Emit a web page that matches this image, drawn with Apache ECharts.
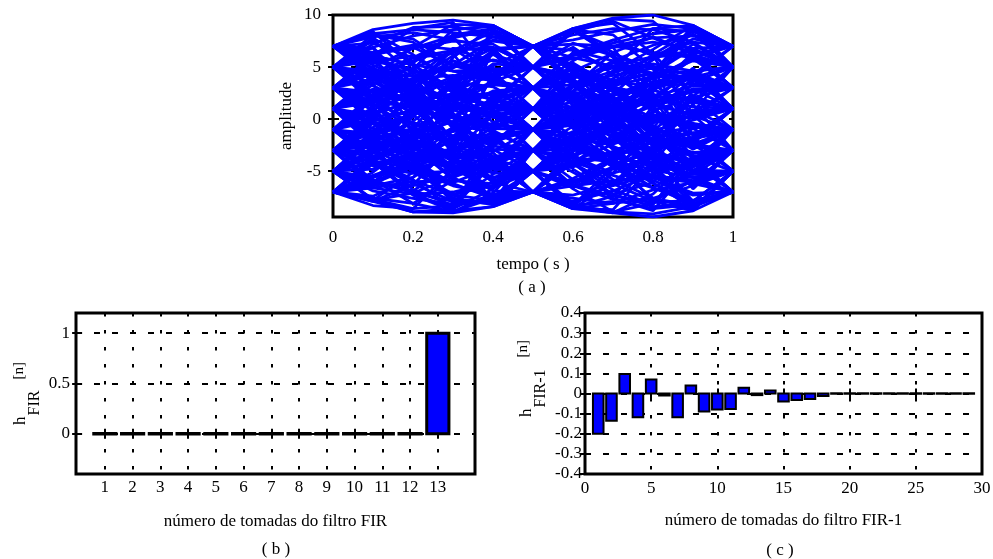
<!DOCTYPE html>
<html>
<head>
<meta charset="utf-8">
<script src="https://cdn.jsdelivr.net/npm/echarts@6/dist/echarts.min.js"></script>
<style>
  html, body { margin: 0; padding: 0; background: #fff; }
  #grafico { width: 993px; height: 559px; }
</style>
</head>
<body>
<div id="grafico"></div>
<script>
// (a) Diagrama de olho: instantes de amostragem de cada traço (s)
const tempo = [0, 0.1, 0.2, 0.3, 0.4, 0.5, 0.6, 0.7, 0.8, 0.9, 1.0];

// Traços agrupados pelo nível inicial do símbolo
const tracosNivel7 = [
  [7, 8.6, 9.2, 9.5, 9.0, 7, 8.7, 9.7, 10.0, 9.0, 7],
  [7, 7.9, 8.3, 7.6, 6.9, 5, 3.6, 2.9, 2.2, 1.9, 1],
  [7, 6.1, 5.2, 4.6, 4.8, 3, 0.6, -1.8, -3.9, -5.6, -5],
  [7, 5.2, 3.4, 1.8, 0.2, 1, 2.7, 4.4, 5.9, 6.6, 5],
  [7, 4.8, 2.7, 0.9, -0.6, -1, -3.4, -5.8, -7.6, -8.3, -7],
  [7, 5.6, 2.9, -0.4, -2.6, -3, -1.2, 0.8, 2.1, 4.5, 3],
  [7, 6.3, 3.5, -0.9, -3.8, -5, -4.6, -3.3, -2.7, -2.4, -1],
  [7, 4.9, 1.6, -2.8, -6.1, -7, -7.9, -6.9, -5.3, -4.1, -3],
  [7, 8.2, 8.6, 8.3, 7.9, 7, 8.1, 8.7, 8.6, 7.4, 5],
  [7, 6.4, 6.8, 7.5, 7.2, 5, 4.2, 4.9, 5.3, 4.6, 3],
  [7, 4.2, 5.6, 8.1, 8.7, 5, 1.9, 3.4, 6.2, 8.5, 7],
  [7, 3.9, 1.2, 3.1, 6.4, 3, -0.4, -2.2, 0.6, 3.9, 1],
  [7, 8.3, 6.2, 3.8, 4.3, 1, -2.4, -0.9, 2.8, 6.1, 3],
  [7, 4.5, 0.9, -1.7, 2.2, -1, -4.3, -3.1, -1.4, -3.6, -5],
  [7, 8.4, 5.1, 0.3, -6.2, -3, 0.6, 2.9, -1.2, -4.6, -1],
  [7, 6.8, 2.4, -3.1, -1.6, -5, -8.1, -6.2, -2.7, 2.1, -1],
  [7, 4.4, -0.7, -5.3, -3.2, -7, -4.1, -7.6, -8.8, -4.3, -7],
  [7, 8.1, 7.7, 5.2, 3.9, 7, 8.6, 6.4, 4.1, 3.9, 7],
  [7, 5.9, 4.1, 2.6, 5.3, 5, 7.3, 6.1, 3.4, 0.6, 3],
  [7, 7.3, 5.9, 6.3, 1.4, 3, 4.8, 2.1, -0.6, -2.9, -1],
  [7, 5.4, 6.1, 3.6, 3.1, 1, -0.8, 0.9, -0.4, 1.8, 1]
];
const tracosNivel5 = [
  [5, 7.2, 8.8, 8.9, 8.2, 7, 5.9, 5.1, 4.3, 4.0, 3],
  [5, 6.4, 7.1, 6.7, 5.6, 5, 2.4, -0.3, -2.2, -3.6, -3],
  [5, 3.9, 2.6, 2.3, 3.4, 3, 5.6, 7.6, 8.7, 8.4, 7],
  [5, 4.3, 3.1, 2.0, 1.4, 1, -0.3, -1.6, -2.1, -1.8, -1],
  [5, 3.2, 1.3, -0.6, -2.2, -1, 0.9, 2.4, 2.8, 1.6, 1],
  [5, 4.1, 1.9, -0.6, -2.2, -3, -5.1, -7.2, -8.4, -8.1, -7],
  [5, 3.3, 0.4, -2.7, -4.4, -5, -2.8, 0.1, 2.9, 4.6, 5],
  [5, 2.6, -1.2, -4.7, -6.9, -7, -8.6, -8.1, -6.8, -6.1, -5],
  [5, 6.9, 8.0, 8.6, 8.9, 7, 7.6, 8.4, 9.1, 8.7, 7],
  [5, 5.6, 4.7, 3.1, 1.8, 1, 0.2, -0.9, -2.1, -3.2, -3],
  [5, 8.1, 7.4, 4.6, 3.8, 7, 8.5, 6.1, 2.8, 1.6, 5],
  [5, 1.8, 3.3, 6.6, 8.4, 5, 1.7, 0.2, 1.9, 4.7, 1],
  [5, 2.2, 0.7, 1.9, 6.3, 3, -0.6, 2.4, 5.8, 8.2, 5],
  [5, 7.8, 5.4, 1.6, -2.4, 1, 4.2, 3.3, -0.9, -4.3, -1],
  [5, 1.6, -2.3, -3.4, 2.3, -1, -4.2, -6.4, -5.3, -1.9, -5],
  [5, 2.0, -2.6, -5.8, -6.6, -3, 0.6, -1.3, -4.4, -8.2, -7],
  [5, 6.9, 2.8, -2.1, -1.4, -5, -8.3, -7.9, -4.2, 0.4, -3],
  [5, 7.6, 4.3, -0.8, -3.6, -7, -3.9, 0.7, 3.1, 5.8, 3],
  [5, 6.1, 5.2, 2.9, -0.3, 1, 3.1, 6.4, 7.9, 6.3, 7],
  [5, 3.4, 4.5, 4.9, 6.8, 7, 5.2, 2.6, 1.2, 2.7, 3],
  [5, 4.6, 2.1, 0.6, -4.1, -1, -1.9, -3.8, -6.2, -7.9, -5]
];
const tracosNivel3 = [
  [3, 5.0, 6.8, 8.0, 8.3, 7, 3.9, 0.2, -3.6, -6.2, -7],
  [3, 4.4, 5.9, 6.6, 6.9, 5, 5.8, 6.9, 7.4, 6.8, 5],
  [3, 1.7, 1.1, 1.8, 2.4, 3, 1.9, 0.6, -0.2, 0.3, 1],
  [3, 2.6, 2.9, 2.2, 2.5, 1, -1.7, -4.4, -6.6, -7.8, -7],
  [3, 2.2, 1.0, 0.1, -0.9, -1, 0.3, 1.7, 3.6, 4.3, 3],
  [3, 1.4, -0.9, -2.6, -3.7, -3, 0.1, 3.2, 5.7, 7.7, 7],
  [3, 0.8, -1.9, -4.1, -5.9, -5, -3.4, -2.1, -1.9, -2.7, -3],
  [3, 0.9, -2.7, -5.6, -7.4, -7, -6.1, -4.6, -3.0, -1.9, -1],
  [3, 3.8, 4.9, 6.4, 7.5, 7, 6.6, 5.6, 4.4, 3.9, 3],
  [3, 4.4, 4.1, 2.7, 1.2, 1, 2.3, 3.2, 4.1, 5.7, 5],
  [3, 6.1, 8.7, 9.3, 4.1, 7, 3.8, -1.1, -4.8, -4.6, -1],
  [3, 0.1, -1.4, 1.9, 8.3, 5, 8.4, 9.4, 7.8, 6.2, 3],
  [3, 5.9, 4.6, 0.4, -0.7, 3, 6.4, 4.9, 1.1, -3.9, -1],
  [3, 6.2, 6.9, 5.1, 4.6, 1, -2.2, -4.6, -2.7, 1.4, -3],
  [3, -0.2, -3.6, -4.8, -4.3, -1, 2.6, 2.1, -2.4, -6.4, -3],
  [3, 5.8, 2.1, -3.3, 0.4, -3, -6.4, -3.9, 1.3, 4.3, 7],
  [3, -0.3, -4.7, -7.6, -8.2, -5, -1.3, 1.9, 2.4, 0.7, 5],
  [3, 1.2, -3.6, -8.1, -3.9, -7, -8.4, -5.2, -0.9, 4.1, 1],
  [3, 4.6, 3.1, 1.4, 0.6, -1, -1.4, -0.4, 1.3, 2.2, 1],
  [3, 2.1, 3.6, 5.6, 4.6, 5, 6.9, 4.3, 1.6, 0.3, -1],
  [3, 4.9, 3.3, -0.6, -1.2, -3, -3.6, -5.2, -4.1, -5.3, -3]
];
const tracosNivel1 = [
  [1, 3.3, 5.9, 7.8, 8.6, 7, 5.1, 2.9, 0.8, -0.5, -1],
  [1, 2.2, 3.8, 5.1, 6.2, 5, 2.2, -1.1, -3.6, -4.9, -5],
  [1, 2.7, 3.9, 4.2, 3.7, 3, 3.3, 4.2, 4.9, 4.2, 3],
  [1, -0.4, -1.2, -0.3, 0.8, 1, 3.3, 5.6, 7.1, 8.1, 7],
  [1, 1.8, 2.2, 1.3, 0.2, -1, -2.6, -4.1, -4.8, -4.4, -3],
  [1, -0.9, -2.4, -3.6, -4.3, -3, -1.6, -0.1, 0.4, 0.2, 1],
  [1, -0.2, -2.1, -3.9, -5.6, -5, -2.1, 0.9, 3.1, 4.0, 5],
  [1, -1.3, -3.9, -6.2, -7.6, -7, -8.2, -8.9, -9.1, -8.4, -7],
  [1, 0.2, 0.8, 2.3, 3.3, 3, -0.2, -2.6, -4.2, -5.6, -5],
  [1, 1.6, 2.6, 3.7, 4.8, 5, 6.1, 7.0, 7.8, 8.0, 7],
  [1, 4.1, 6.9, 9.1, 9.0, 7, 3.4, 4.6, 8.7, 9.0, 5],
  [1, -2.1, -0.9, 3.4, 1.8, 5, 8.7, 9.2, 6.3, 2.2, 5],
  [1, 4.3, 4.8, 2.6, 6.4, 3, -0.6, -3.4, -4.6, -1.7, 1],
  [1, -2.4, -4.7, -3.1, 4.4, 1, -2.6, -1.1, 2.9, 4.1, 1],
  [1, 3.9, 3.1, -0.6, -4.6, -1, 2.7, 5.4, 4.2, -2.3, 1],
  [1, -1.8, -5.1, -7.2, -6.4, -3, 1.1, 4.6, 6.7, 9.0, 7],
  [1, 3.6, 1.4, -3.3, -8.1, -5, -1.4, -3.8, -7.9, -8.8, -5],
  [1, -2.6, -6.8, -8.3, -4.1, -7, -8.6, -6.1, -2.9, -0.4, -3],
  [1, 2.9, 1.8, 0.3, 1.9, 3, 5.1, 3.7, 4.4, 7.2, 5],
  [1, -1.6, -0.4, -2.2, -3.1, -1, 0.6, 1.4, -1.6, -4.3, -3],
  [1, 0.4, 2.9, 5.6, 4.1, 5, 3.6, 0.9, -2.2, 0.6, 1]
];
const tracosNivelM1 = [
  [-1, 1.1, 3.6, 6.1, 7.9, 7, 4.9, 3.1, 1.9, 1.2, 1],
  [-1, 0.9, 2.4, 4.1, 5.7, 5, 6.2, 7.3, 8.2, 8.6, 7],
  [-1, -1.8, -0.9, 1.3, 2.6, 3, 1.0, -1.4, -3.3, -4.0, -3],
  [-1, 0.6, 1.6, 2.4, 2.0, 1, 1.2, 2.3, 3.4, 3.8, 3],
  [-1, -2.7, -3.3, -2.9, -1.8, -1, -2.9, -4.3, -5.4, -5.9, -5],
  [-1, -1.6, -2.9, -3.4, -3.9, -3, -0.7, 1.8, 4.0, 5.6, 5],
  [-1, -2.0, -3.4, -4.8, -5.6, -5, -6.3, -7.4, -8.0, -7.8, -7],
  [-1, -2.9, -4.9, -6.4, -7.2, -7, -5.7, -3.7, -2.2, -1.4, -1],
  [-1, -0.2, 0.9, 1.1, 0.4, 1, 0.2, -1.2, -2.2, -1.9, -1],
  [-1, 0.1, -0.3, -1.6, -2.9, -3, -2.0, -0.4, 0.3, 0.1, 1],
  [-1, 2.1, 5.4, 7.9, 3.6, 7, 8.7, 5.9, 2.2, -3.9, -1],
  [-1, -3.9, -2.1, 2.6, 8.6, 5, 1.3, -2.8, -5.6, -6.1, -3],
  [-1, 1.8, 3.9, 6.8, 6.6, 3, 6.3, 7.6, 6.1, 0.2, 3],
  [-1, -4.2, -3.8, -1.6, -2.5, 1, 4.4, 1.6, -3.4, -7.9, -5],
  [-1, 2.4, 1.6, -2.6, 2.4, -1, -4.3, -6.8, -8.2, -3.6, -7],
  [-1, -3.8, -7.2, -8.6, -6.7, -3, 0.8, 1.4, -1.3, -5.3, -1],
  [-1, 1.9, -0.6, -3.9, -1.6, -5, -8.6, -8.7, -4.4, 2.9, 1],
  [-1, -4.1, -7.3, -8.8, -8.4, -7, -3.6, -0.3, 2.9, 6.1, 3],
  [-1, -3.1, -1.4, 0.3, -1.1, 1, 0.7, -1.8, -4.9, -5.6, -7],
  [-1, 0.7, -1.9, -3.3, -5.1, -3, -5.8, -6.4, -3.1, -0.9, -3],
  [-1, -1.4, 0.3, 3.6, 4.9, 3, 1.6, 4.6, 5.1, 3.6, 5]
];
const tracosNivelM3 = [
  [-3, -1.2, 2.1, 5.2, 7.6, 7, 7.2, 7.0, 6.4, 5.9, 5],
  [-3, -0.8, 1.9, 3.9, 4.6, 5, 3.4, 1.6, 0.2, -0.4, -1],
  [-3, -1.7, 0.4, 1.9, 3.6, 3, 0.2, -2.9, -5.6, -7.1, -7],
  [-3, -3.6, -2.8, -1.1, 0.3, 1, -0.8, -2.7, -3.9, -3.8, -3],
  [-3, -2.4, -1.6, -1.2, -0.4, -1, 1.3, 3.9, 6.1, 7.4, 7],
  [-3, -4.5, -5.2, -5.0, -4.3, -3, -2.2, -1.1, 0.2, 0.8, 1],
  [-3, -2.1, -2.7, -3.8, -5.2, -5, -3.1, -0.6, 1.6, 2.9, 3],
  [-3, -4.2, -5.9, -7.3, -7.8, -7, -6.4, -5.9, -5.7, -5.6, -5],
  [-3, -1.1, 0.6, 1.3, 0.9, -1, -0.6, 0.8, 2.2, 3.2, 3],
  [-3, -3.1, -3.9, -4.5, -4.8, -5, -4.4, -3.2, -1.8, -1.3, -1],
  [-3, 0.1, 4.8, 8.6, 9.0, 7, 3.2, 0.6, 1.8, 4.9, 1],
  [-3, -6.1, -4.2, 0.9, 1.6, 5, 8.6, 8.1, 4.9, 1.4, 5],
  [-3, -0.2, 0.8, 3.4, 6.4, 3, -0.8, -4.4, -7.6, -8.6, -5],
  [-3, -6.4, -5.6, -2.6, 4.3, 1, -2.3, -0.6, 4.4, 9.0, 7],
  [-3, 0.4, 1.8, 0.2, -4.6, -1, 3.1, 1.3, -2.1, -6.7, -3],
  [-3, -5.8, -8.1, -8.9, -7.1, -3, 0.4, 3.1, 2.2, -2.1, 1],
  [-3, 0.3, -1.7, -5.3, -1.4, -5, -8.4, -9.0, -7.2, -3.6, -7],
  [-3, -0.4, -3.9, -7.6, -4.1, -7, -4.2, -1.6, -4.8, -8.6, -5],
  [-3, -1.9, -3.4, -2.1, 1.6, -1, -3.7, -4.1, -1.1, 1.9, 1],
  [-3, -4.9, -3.1, -0.8, 0.6, 3, 4.4, 2.2, 3.9, 5.9, 7],
  [-3, -2.6, -4.4, -6.1, -4.6, -5, -6.6, -4.6, -2.9, -4.6, -3]
];
const tracosNivelM5 = [
  [-5, -3.1, 0.2, 3.8, 6.6, 7, 4.6, 1.8, -0.7, -2.4, -3],
  [-5, -2.9, -0.2, 2.6, 4.3, 5, 4.1, 3.6, 3.2, 3.4, 3],
  [-5, -4.1, -1.9, 0.8, 2.7, 3, 3.9, 5.1, 6.0, 6.2, 5],
  [-5, -3.3, -1.6, -0.2, 1.1, 1, 1.6, 2.0, 1.4, 0.4, 1],
  [-5, -5.6, -4.6, -2.9, -1.6, -1, -0.2, 0.4, -0.1, -0.8, -1],
  [-5, -6.2, -6.4, -5.4, -3.9, -3, -2.9, -3.6, -4.4, -5.3, -5],
  [-5, -6.6, -7.2, -7.0, -6.1, -5, -2.4, 1.2, 4.4, 6.8, 7],
  [-5, -5.9, -7.1, -7.9, -8.1, -7, -5.9, -4.8, -3.7, -3.3, -3],
  [-5, -6.9, -7.6, -8.2, -7.9, -7, -7.6, -8.1, -7.6, -6.4, -5],
  [-5, -4.2, -3.6, -3.3, -3.6, -3, -4.1, -5.4, -6.6, -8.1, -7],
  [-5, -1.6, 2.9, 6.8, 4.2, 7, 8.5, 6.9, 1.4, -3.9, -7],
  [-5, -7.8, -5.1, 1.3, 8.7, 5, 2.1, 0.3, 2.6, 6.4, 3],
  [-5, -1.8, -2.4, -0.9, 6.6, 3, -0.9, -3.4, -6.1, -8.6, -5],
  [-5, -7.7, -8.6, -4.8, -2.7, 1, 4.6, 6.3, 4.8, -1.6, 1],
  [-5, -1.5, 0.6, 1.9, 2.4, -1, -4.8, -7.2, -6.1, -1.7, -5],
  [-5, -2.2, -4.6, -7.8, -7.9, -3, 0.9, 0.3, -3.2, -6.4, -3],
  [-5, -7.7, -8.9, -8.6, -1.8, -5, -8.5, -7.4, -3.3, 3.8, 1],
  [-5, -1.9, -1.1, -3.6, -8.3, -7, -3.1, 0.4, 4.2, 8.6, 7],
  [-5, -3.6, -4.6, -4.1, -1.1, -3, -1.6, 0.9, -0.9, -2.6, -1],
  [-5, -6.1, -4.3, -1.9, 0.3, -1, -3.6, -1.9, 0.8, 2.1, 3],
  [-5, -4.8, -2.6, -4.4, -6.6, -5, -3.6, -6.2, -7.9, -5.9, -7]
];
const tracosNivelM7 = [
  [-7, -6.1, -2.9, 1.4, 5.1, 7, 4.6, 0.4, -3.1, -5.1, -5],
  [-7, -5.1, -2.2, 1.1, 3.6, 5, 1.8, -2.6, -5.9, -7.3, -7],
  [-7, -6.4, -3.8, -0.9, 1.8, 3, 2.1, 0.9, -0.1, -0.6, -1],
  [-7, -7.4, -5.6, -3.1, -0.8, 1, 2.3, 3.6, 4.4, 4.6, 5],
  [-7, -5.4, -4.1, -3.0, -2.1, -1, 0.1, 1.2, 2.0, 2.6, 3],
  [-7, -7.8, -7.1, -5.6, -4.2, -3, -2.3, -2.1, -1.4, -0.8, -1],
  [-7, -7.9, -8.9, -8.9, -7.6, -5, -4.1, -2.4, -1.1, -0.1, 1],
  [-7, -7.8, -8.9, -9.0, -8.4, -7, -8.6, -9.0, -9.4, -8.8, -7],
  [-7, -8.3, -8.6, -8.3, -7.6, -7, -7.3, -6.2, -4.9, -3.8, -3],
  [-7, -6.6, -6.0, -5.9, -6.2, -5, -6.4, -7.7, -8.6, -8.2, -7],
  [-7, -3.8, 1.3, 5.9, 9.0, 7, 3.3, 0.4, -2.6, -1.8, 1],
  [-7, -4.1, -4.6, -1.1, 1.4, 5, 8.7, 9.6, 9.4, 6.3, 3],
  [-7, -7.9, -6.3, -2.4, 6.8, 3, -0.6, 0.3, 3.6, 8.7, 5],
  [-7, -3.6, -2.1, -3.8, -2.6, 1, 5.4, 3.1, -1.6, -4.9, -3],
  [-7, -4.3, -6.2, -7.9, -5.3, -1, 2.6, -0.1, -5.2, -8.6, -5],
  [-7, -7.6, -8.1, -5.9, 0.8, -3, -6.7, -8.9, -8.1, -3.9, -7],
  [-7, -4.0, -1.4, -2.2, -8.1, -5, -1.6, -0.2, -3.1, -8.2, -7],
  [-7, -3.9, -5.8, -8.6, -4.2, -7, -8.3, -4.6, -1.9, -2.4, -5],
  [-7, -5.9, -6.9, -4.3, -2.9, -5, -6.1, -3.9, -1.4, 0.9, -1],
  [-7, -6.2, -4.6, -6.3, -7.4, -5, -2.1, -4.1, -6.6, -4.2, -3],
  [-7, -5.6, -3.2, -4.4, -5.8, -3, 0.4, 1.9, 0.1, -2.3, 1]
];
const ticksAmplitude = [-5, 0, 5, 10];

// (b) Resposta ao impulso do filtro FIR
const tomadasFIR = [1, 2, 3, 4, 5, 6, 7, 8, 9, 10, 11, 12, 13];
const hFIR = [0, 0, 0, 0, 0, 0, 0, 0, 0, 0, 0, 0, 1];
const ticksHFIR = [0, 0.5, 1];

// (c) Resposta ao impulso do filtro inverso FIR-1
const tomadasFIRInv = [1, 2, 3, 4, 5, 6, 7, 8, 9, 10, 11, 12, 13, 14, 15,
  16, 17, 18, 19, 20, 21, 22, 23, 24, 25, 26, 27, 28, 29];
const hFIRInv = [-0.2, -0.135, 0.097, -0.118, 0.07, -0.01, -0.118, 0.04,
  -0.09, -0.08, -0.077, 0.028, -0.008, 0.015, -0.04, -0.032, -0.027, -0.012,
  0, 0, 0, 0, 0, 0, 0, 0, 0, 0, 0];

const SERIF = '"Liberation Serif", "Times New Roman", serif';
const AZUL = '#0000ff';

const rotulo = { fontFamily: SERIF, fontSize: 17, color: '#000' };
const tickDentro = { show: true, inside: true, length: 5, lineStyle: { color: '#000', width: 2 } };
const gradeV = { show: true, lineStyle: { color: '#000', width: 2, type: [3.5, 13.5] } };
const gradeH = { show: true, lineStyle: { color: '#000', width: 2, type: [6, 12] } };

function eixoX(grid, extra) {
  return Object.assign({
    gridIndex: grid, type: 'value', position: 'bottom',
    axisLine: { show: false }, axisTick: tickDentro,
    axisLabel: Object.assign({}, rotulo), splitLine: gradeV,
    nameMoveOverlap: false
  }, extra);
}
function eixoY(grid, extra) {
  return Object.assign({
    gridIndex: grid, type: 'value', position: 'left',
    axisLine: { show: false }, axisTick: tickDentro,
    axisLabel: Object.assign({}, rotulo), splitLine: gradeH,
    nameMoveOverlap: false
  }, extra);
}
// eixos espelhados (só marcas) no topo e à direita de cada quadro
function espelhoX(grid, extra) {
  return Object.assign({
    gridIndex: grid, type: 'value', position: 'top',
    axisLine: { show: false }, axisTick: tickDentro,
    axisLabel: { show: false }, splitLine: { show: false }
  }, extra);
}
function espelhoY(grid, extra) {
  return Object.assign({
    gridIndex: grid, type: 'value', position: 'right',
    axisLine: { show: false }, axisTick: tickDentro,
    axisLabel: { show: false }, splitLine: { show: false }
  }, extra);
}

const quadro = { show: true, borderColor: '#000', borderWidth: 3, backgroundColor: 'transparent', outerBoundsMode: 'none', containLabel: false };

const nomeY = (texto, rich, gap) => ({
  name: texto, nameLocation: 'middle', nameRotate: 90, nameGap: gap,
  nameTextStyle: Object.assign({ align: 'center', verticalAlign: 'middle', rich: rich }, rotulo)
});

const todosTracos = [].concat(tracosNivel7, tracosNivel5, tracosNivel3, tracosNivel1,
  tracosNivelM1, tracosNivelM3, tracosNivelM5, tracosNivelM7);

const seriesOlho = todosTracos.map(tr => ({
  type: 'line', xAxisIndex: 0, yAxisIndex: 0,
  data: tempo.map((t, i) => [t, tr[i]]),
  symbol: 'none', silent: true,
  lineStyle: { color: AZUL, width: 2.8 }
}));

// Barra desenhada como retângulo com contorno; barras nulas viram um traço preto
function desenhaBarra(largura, espessura) {
  return function (params, api) {
    const n = api.value(0), h = api.value(1);
    const p0 = api.coord([n - largura / 2, h]);
    const p1 = api.coord([n + largura / 2, 0]);
    const alto = Math.abs(p1[1] - p0[1]);
    if (alto < 0.5) {
      return {
        type: 'line',
        shape: { x1: p0[0] - espessura / 2, y1: p1[1], x2: p1[0] + espessura / 2, y2: p1[1] },
        style: { stroke: '#000', lineWidth: espessura + 0.5 }
      };
    }
    return {
      type: 'rect',
      shape: { x: p0[0], y: Math.min(p0[1], p1[1]), width: p1[0] - p0[0], height: alto },
      style: { fill: AZUL, stroke: '#000', lineWidth: espessura }
    };
  };
}

const option = {
  animation: false,
  backgroundColor: '#fff',
  grid: [
    Object.assign({ left: 333, top: 15, width: 400, height: 202, z: 3 }, quadro),
    Object.assign({ left: 76, top: 313, width: 399, height: 161 }, quadro),
    Object.assign({ left: 585, top: 313, width: 397, height: 161 }, quadro)
  ],
  xAxis: [
    eixoX(0, { min: 0, max: 1, interval: 0.2, axisLabel: Object.assign({ margin: 12 }, rotulo),
      name: 'tempo ( s )', nameLocation: 'middle', nameGap: 39, nameTextStyle: rotulo }),
    eixoX(1, { min: -0.04, max: 14.34,
      axisLabel: Object.assign({ margin: 5, customValues: tomadasFIR }, rotulo),
      axisTick: Object.assign({ customValues: tomadasFIR }, tickDentro),
      name: 'número de tomadas do filtro FIR', nameLocation: 'middle', nameGap: 39, nameTextStyle: rotulo }),
    eixoX(2, { min: 0, max: 30, interval: 5, axisLabel: Object.assign({ margin: 6 }, rotulo),
      name: 'número de tomadas do filtro FIR-1', nameLocation: 'middle', nameGap: 38, nameTextStyle: rotulo }),
    espelhoX(0, { min: 0, max: 1, interval: 0.2 }),
    espelhoX(1, { min: -0.04, max: 14.34, axisTick: Object.assign({ customValues: tomadasFIR }, tickDentro) }),
    espelhoX(2, { min: 0, max: 30, interval: 5 })
  ],
  yAxis: [
    eixoY(0, Object.assign({ min: -9.4, max: 10,
      axisLabel: Object.assign({ margin: 12, customValues: ticksAmplitude }, rotulo),
      axisTick: Object.assign({ customValues: ticksAmplitude }, tickDentro) },
      nomeY('amplitude', {}, 46))),
    eixoY(1, Object.assign({ min: -0.4, max: 1.2,
      axisLabel: Object.assign({ margin: 6, customValues: ticksHFIR }, rotulo),
      axisTick: Object.assign({ customValues: ticksHFIR }, tickDentro) },
      nomeY('{h|h}{s|FIR}{n|[n]}', {
        h: { fontFamily: SERIF, fontSize: 17, lineHeight: 17, verticalAlign: 'top', padding: [2, 1, 0, 0] },
        s: { fontFamily: SERIF, fontSize: 16, lineHeight: 16, verticalAlign: 'top', padding: [16, 0, 0, 0] },
        n: { fontFamily: SERIF, fontSize: 15, lineHeight: 15, verticalAlign: 'top', padding: [1, 0, 0, 11] }
      }, 57))),
    eixoY(2, Object.assign({ min: -0.4, max: 0.4, interval: 0.1,
      axisLabel: Object.assign({ margin: 3 }, rotulo) },
      nomeY('{h|h}{s|FIR-1}{n|[n]}', {
        h: { fontFamily: SERIF, fontSize: 17, lineHeight: 17, verticalAlign: 'top', padding: [3, 1, 0, 30] },
        s: { fontFamily: SERIF, fontSize: 16, lineHeight: 16, verticalAlign: 'top', padding: [17, 0, 0, 0] },
        n: { fontFamily: SERIF, fontSize: 15, lineHeight: 15, verticalAlign: 'top', padding: [0, 0, 0, 12] }
      }, 61))),
    espelhoY(0, { min: -9.4, max: 10, axisTick: Object.assign({ customValues: ticksAmplitude }, tickDentro) }),
    espelhoY(1, { min: -0.4, max: 1.2, axisTick: Object.assign({ customValues: ticksHFIR }, tickDentro) }),
    espelhoY(2, { min: -0.4, max: 0.4, interval: 0.1 })
  ],
  series: seriesOlho.concat([
    {
      type: 'custom', xAxisIndex: 1, yAxisIndex: 1, silent: true, clip: true,
      renderItem: desenhaBarra(0.8, 3),
      encode: { x: 0, y: 1 },
      data: tomadasFIR.map((n, i) => [n, hFIR[i]])
    },
    {
      type: 'custom', xAxisIndex: 2, yAxisIndex: 2, silent: true, clip: true,
      renderItem: desenhaBarra(0.8, 2),
      encode: { x: 0, y: 1 },
      data: tomadasFIRInv.map((n, i) => [n, hFIRInv[i]])
    }
  ]),
  graphic: [
    { type: 'text', x: 532, y: 288, style: { text: '( a )', font: '17px ' + SERIF, fill: '#000', align: 'center', verticalAlign: 'middle' } },
    { type: 'text', x: 276, y: 550, style: { text: '( b )', font: '17px ' + SERIF, fill: '#000', align: 'center', verticalAlign: 'middle' } },
    { type: 'text', x: 780, y: 551, style: { text: '( c )', font: '17px ' + SERIF, fill: '#000', align: 'center', verticalAlign: 'middle' } }
  ]
};

const grafico = echarts.init(document.getElementById('grafico'), null, { renderer: 'canvas' });
grafico.setOption(option);
</script>
</body>
</html>
